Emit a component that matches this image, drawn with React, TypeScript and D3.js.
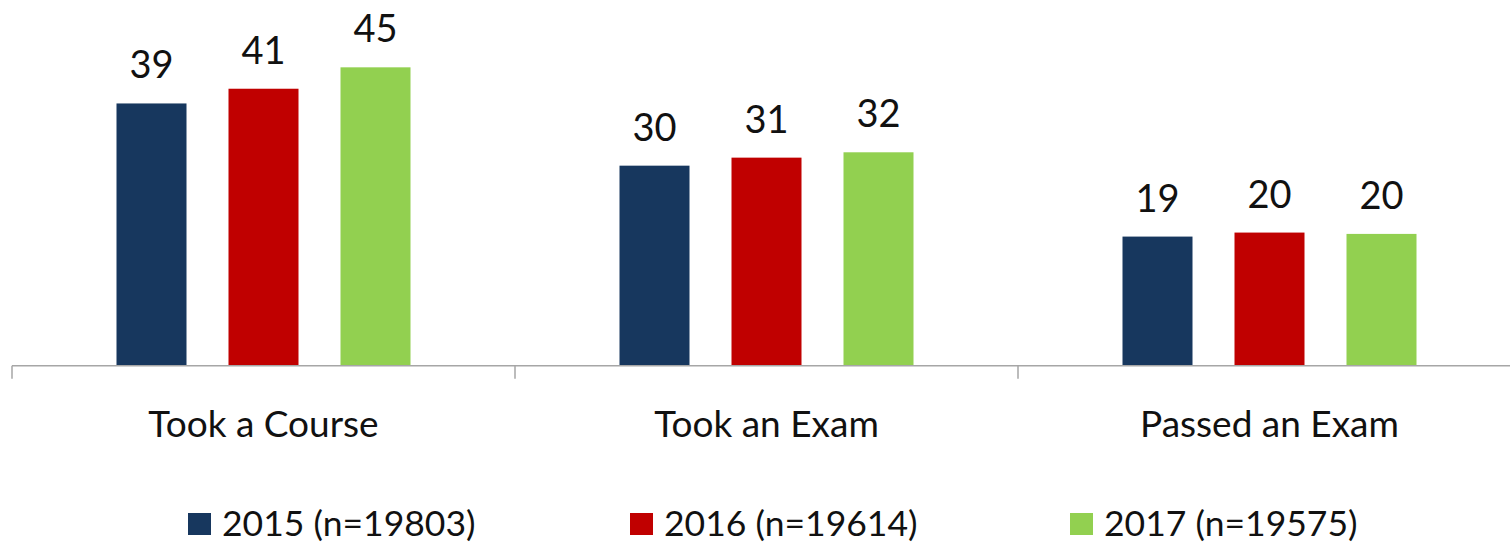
import React, { useEffect, useRef } from "react";
import * as d3 from "d3";

const categories = ["Took a Course", "Took an Exam", "Passed an Exam"];
const years = ["2015", "2016", "2017"];
const sampleSizes = ["19803", "19614", "19575"];
const values2015 = [39.2, 29.9, 19.3];
const values2016 = [41.4, 31.1, 19.9];
const values2017 = [44.6, 31.9, 19.7];
const colors = ["#17375E", "#C00000", "#92D050"];

const W = 1510, H = 543;

export default function App() {
  const ref = useRef<SVGSVGElement>(null);

  useEffect(() => {
    document.body.style.margin = "0";
    const series = [values2015, values2016, values2017];
    const svg = d3.select(ref.current);
    svg.selectAll("*").remove();

    const baseY = 365.7;
    // category bands span 12 -> 1521, the last edge falls off the image
    const x = d3.scaleBand<string>().domain(categories).range([12, 1521]).paddingInner(0).paddingOuter(0);
    const y = d3.scaleLinear().domain([0, 50]).range([baseY, baseY - 50 * 6.69]);
    // bars in each group: 70 wide with 42 gaps
    const inner = d3.scaleBand<string>().domain(years).range([x.bandwidth() / 2 - 147, x.bandwidth() / 2 + 147]).paddingInner(0.375).paddingOuter(0);

    const font = "Lato, 'Open Sans', sans-serif";

    const g = svg.append("g");
    categories.forEach((cat, ci) => {
      const grp = g.append("g").attr("transform", "translate(" + x(cat) + ",0)");
      years.forEach((yr, si) => {
        const v = series[si][ci];
        grp.append("rect")
          .attr("x", inner(yr)!)
          .attr("y", y(v))
          .attr("width", inner.bandwidth())
          .attr("height", baseY - y(v))
          .attr("fill", colors[si]);
        grp.append("text")
          .attr("x", inner(yr)! + inner.bandwidth() / 2)
          .attr("y", y(v) - 25)
          .attr("text-anchor", "middle")
          .style("font-family", font)
          .style("font-size", "38px")
          .style("fill", "#111")
          .text(d3.format(".0f")(v));
      });
      grp.append("text")
        .attr("x", x.bandwidth() / 2)
        .attr("y", 437)
        .attr("text-anchor", "middle")
        .style("font-family", font)
        .style("font-size", "37px")
        .style("fill", "#111")
        .text(cat);
    });

    // axis line + ticks at the band edges
    const axis = svg.append("g");
    axis.append("line")
      .attr("x1", x.range()[0]).attr("x2", W)
      .attr("y1", baseY).attr("y2", baseY)
      .attr("stroke", "#A6A6A6").attr("stroke-width", 1.5);
    const edges = categories.map(c => x(c)!).concat([x.range()[1]]);
    axis.selectAll("line.tick")
      .data(edges)
      .enter()
      .append("line")
      .attr("class", "tick")
      .attr("x1", d => d).attr("x2", d => d)
      .attr("y1", baseY).attr("y2", baseY + 13)
      .attr("stroke", "#A6A6A6").attr("stroke-width", 1.5);

    // legend
    const legendX = [188, 630, 1070];
    const leg = svg.append("g");
    years.forEach((yr, i) => {
      leg.append("rect")
        .attr("x", legendX[i]).attr("y", 513)
        .attr("width", 23).attr("height", 22)
        .attr("fill", colors[i]);
      leg.append("text")
        .attr("x", legendX[i] + 34)
        .attr("y", 536)
        .style("font-family", font)
        .style("font-size", "35.5px")
        .style("fill", "#111")
        .text(yr + " (n=" + sampleSizes[i] + ")");
    });
  }, []);

  return <svg ref={ref} width={W} height={H} style={{ display: "block", background: "#fff" }} />;
}
